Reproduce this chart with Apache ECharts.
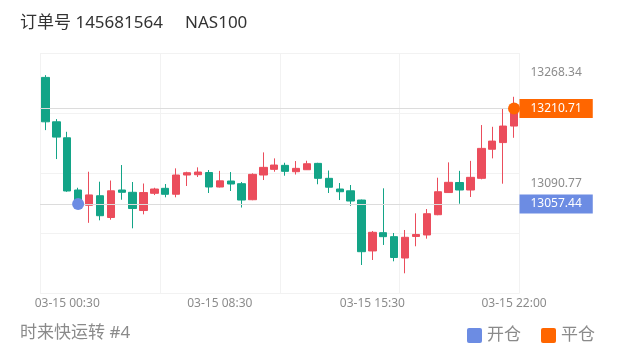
<!DOCTYPE html>
<html>
<head>
<meta charset="utf-8">
<script src="https://cdn.jsdelivr.net/npm/echarts@6/dist/echarts.min.js"></script>
<style>
html,body{margin:0;padding:0;background:#fff;}
#c{width:620px;height:352px;}
</style>
</head>
<body>
<div id="c"></div>
<script>
// ---- data ----
const categories = ['03-14 23:30','03-15 00:00','03-15 00:30','03-15 01:00','03-15 01:30','03-15 02:00','03-15 02:30','03-15 03:00','03-15 03:30','03-15 04:00','03-15 04:30','03-15 05:00','03-15 06:30','03-15 07:00','03-15 07:30','03-15 08:00','03-15 08:30','03-15 09:00','03-15 09:30','03-15 10:00','03-15 10:30','03-15 11:00','03-15 11:30','03-15 12:00','03-15 12:30','03-15 13:00','03-15 13:30','03-15 14:00','03-15 14:30','03-15 15:00','03-15 15:30','03-15 16:00','03-15 16:30','03-15 17:00','03-15 17:30','03-15 18:00','03-15 18:30','03-15 19:00','03-15 19:30','03-15 20:00','03-15 20:30','03-15 21:00','03-15 21:30','03-15 22:00'];
const opens  = [13260.4,13189.2,13163.6,13079.9,13055.4,13070.7,13035.8,13079.9,13076.2,13047.0,13074.6,13082.6,13073.1,13103.9,13104.4,13107.9,13084.7,13094.3,13090.0,13064.3,13103.9,13113.0,13119.4,13109.2,13112.4,13122.6,13098.6,13081.5,13078.6,13063.8,12982.2,13011.5,13005.1,12970.9,13005.4,13007.8,13040.3,13075.8,13091.9,13079.9,13098.6,13145.2,13155.9,13182.4];
const closes = [13189.2,13164.7,13078.3,13061.1,13072.0,13038.7,13078.6,13076.2,13050.2,13075.8,13081.5,13073.0,13103.9,13107.6,13108.7,13084.7,13094.6,13089.5,13063.8,13105.0,13116.2,13119.9,13109.8,13114.6,13122.0,13098.6,13084.3,13077.1,13062.2,12981.0,13012.1,13005.1,12971.7,13004.1,13008.6,13041.9,13077.1,13092.2,13079.9,13100.2,13146.6,13158.3,13182.4,13210.71];
const lows   = [13175.9,13129.5,13077.0,13055.0,13027.3,13031.3,13032.3,13064.3,13018.5,13040.9,13071.8,13068.2,13068.2,13086.3,13100.7,13075.1,13084.0,13078.3,13051.8,13063.5,13095.9,13109.2,13102.8,13104.7,13112.0,13089.1,13075.1,13063.8,13054.6,12959.7,12967.7,12991.8,12965.6,12946.4,12989.7,13001.9,13039.5,13075.5,13057.9,13068.7,13097.0,13130.6,13090.0,13163.6];
const highs  = [13264.0,13193.6,13173.2,13083.5,13109.2,13093.2,13095.1,13119.9,13092.7,13090.3,13083.5,13089.5,13114.6,13109.2,13116.2,13111.9,13110.6,13108.7,13092.7,13106.6,13140.2,13130.6,13123.6,13126.3,13126.8,13123.5,13111.1,13091.1,13087.9,13064.5,13014.2,13082.6,13011.0,13015.8,13042.5,13049.4,13099.6,13124.2,13110.6,13126.6,13184.0,13181.2,13210.7,13229.3];
const xTickLabels = ['03-15 00:30','03-15 08:30','03-15 15:30','03-15 22:00'];
const yTickLabels = [13268.34, 13090.77];
const openTime = '03-15 01:00';
const openPrice = 13057.44;
const closeTime = '03-15 22:00';
const closePrice = 13210.71;
const titleText = '订单号 145681564     NAS100';
const footerText = '时来快运转 #4';
const legendNames = ['开仓', '平仓'];

// ---- chart ----
const UP = '#EB4D5C', DOWN = '#13A487';
const BLUE = '#6C8CE3', ORANGE = '#FF6600';
const FONT = '"Noto Sans", "Noto Sans CJK SC", sans-serif';
const yMin = 12914, yMax = 13299.5;
const SQUARE = 'path://M2,0H13A2,2,0,0,1,15,2V13A2,2,0,0,1,13,15H2A2,2,0,0,1,0,13V2A2,2,0,0,1,2,0Z';

const kData = opens.map((o, i) => [o, closes[i], lows[i], highs[i]]);

const chart = echarts.init(document.getElementById('c'), null, {renderer: 'canvas'});
chart.setOption({
  animation: false,
  backgroundColor: '#fff',
  textStyle: {fontFamily: FONT},
  title: [
    {text: titleText, left: 20, top: 15, padding: 0, textStyle: {fontSize: 17, fontWeight: 'normal', color: '#333', fontFamily: FONT}},
    {text: footerText, left: 20, top: 325, padding: 0, textStyle: {fontSize: 17, fontWeight: 'normal', color: '#8a8a8a', fontFamily: FONT}}
  ],
  legend: {
    data: legendNames.map(n => ({name: n, icon: SQUARE})),
    right: 20, top: 322,
    itemWidth: 15, itemHeight: 15,
    itemGap: 20,
    itemStyle: {opacity: 1},
    textStyle: {fontSize: 17, color: '#8a8a8a', fontFamily: FONT}
  },
  grid: {left: 40, right: 100.5, top: 53, bottom: 58.5, containLabel: false},
  xAxis: {
    type: 'category',
    data: categories,
    boundaryGap: true,
    axisLine: {show: false},
    axisTick: {show: false},
    axisLabel: {
      color: '#8c8c8c', fontSize: 12, margin: 4, fontFamily: FONT,
      interval: (idx, val) => xTickLabels.indexOf(val) >= 0
    },
    splitLine: {show: true, interval: 10, lineStyle: {color: '#f2f2f2', width: 1}}
  },
  yAxis: {
    type: 'value',
    position: 'right',
    min: yMin, max: yMax,
    interval: (yMax - yMin) / 4,
    axisLine: {show: false},
    axisTick: {show: false},
    axisLabel: {
      customValues: yTickLabels,
      color: '#8c8c8c', fontSize: 12, margin: 11, fontFamily: FONT,
      formatter: v => Number(v).toFixed(2)
    },
    splitLine: {show: true, lineStyle: {color: '#f2f2f2', width: 1}}
  },
  series: [
    {
      type: 'candlestick',
      name: 'K',
      data: kData,
      barWidth: '72%',
      itemStyle: {color: UP, color0: DOWN, borderColor: UP, borderColor0: DOWN, borderWidth: 1}
    },
    {
      type: 'scatter',
      name: legendNames[0],
      data: [[openTime, openPrice]],
      symbolSize: 12,
      z: 10,
      itemStyle: {color: BLUE, opacity: 1},
      markLine: {
        silent: true, symbol: ['none', 'none'], z: 5,
        lineStyle: {color: '#dcdcdc', width: 1, type: 'solid'},
        label: {
          position: 'end', distance: 0, color: '#fff', fontSize: 12, fontFamily: FONT,
          backgroundColor: BLUE, padding: [4, 11, 3, 11],
          formatter: p => Number(p.value).toFixed(2)
        },
        data: [{yAxis: openPrice}]
      }
    },
    {
      type: 'scatter',
      name: legendNames[1],
      data: [[closeTime, closePrice]],
      symbolSize: 12,
      z: 10,
      itemStyle: {color: ORANGE, opacity: 1},
      markLine: {
        silent: true, symbol: ['none', 'none'], z: 5,
        lineStyle: {color: '#dcdcdc', width: 1, type: 'solid'},
        label: {
          position: 'end', distance: 0, color: '#fff', fontSize: 12, fontFamily: FONT,
          backgroundColor: ORANGE, padding: [4, 11, 3, 11],
          formatter: p => Number(p.value).toFixed(2)
        },
        data: [{yAxis: closePrice}]
      }
    }
  ]
});
</script>
</body>
</html>
